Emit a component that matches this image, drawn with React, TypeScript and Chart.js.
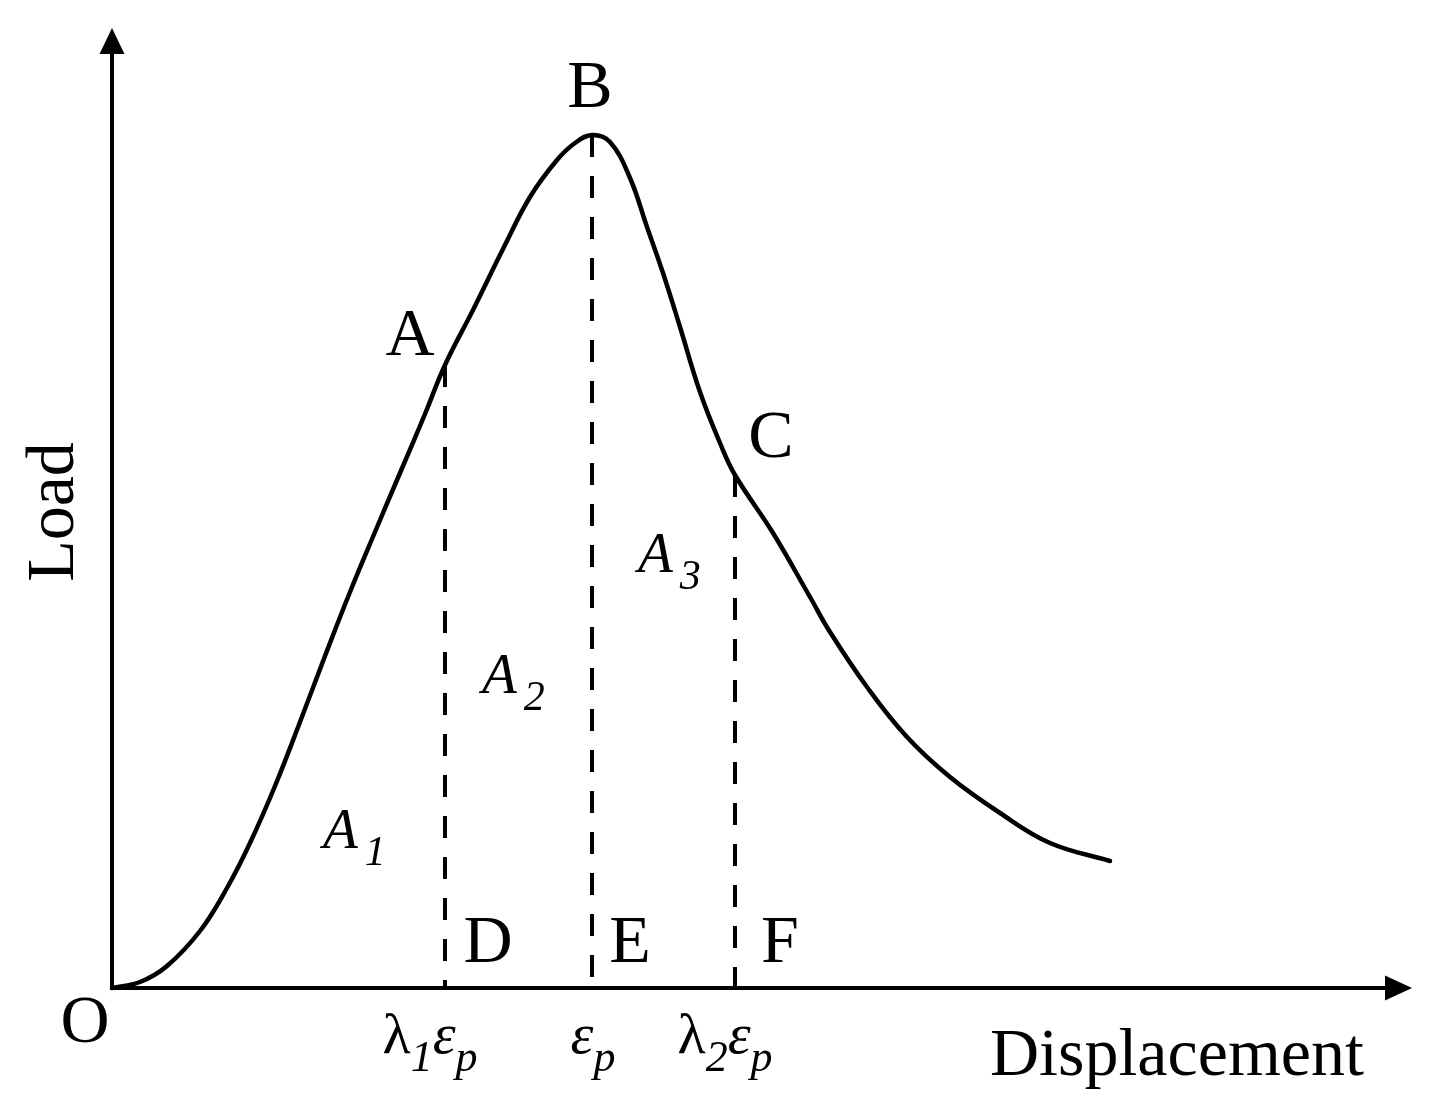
import React, { useEffect, useRef } from 'react';
import { Chart, registerables } from 'chart.js';

Chart.register(...registerables);

// Curve (arbitrary units)
const displacement = [
  0, 0.28, 0.55, 0.88, 1.15, 1.38, 1.63, 1.88, 2.13, 2.38, 2.63, 2.88, 3.13, 3.33,
  3.61, 3.91, 4.18, 4.45, 4.63, 4.80, 4.98, 5.18, 5.35, 5.51, 5.68, 5.88, 6.08, 6.23,
  6.61, 6.98, 7.18, 7.55, 7.95, 8.38, 8.88, 9.38, 9.98,
];
const load = [
  0, 0.06, 0.22, 0.57, 1.0, 1.45, 2.02, 2.66, 3.32, 3.96, 4.56, 5.15, 5.74, 6.23,
  6.78, 7.39, 7.91, 8.28, 8.45, 8.53, 8.46, 8.10, 7.61, 7.15, 6.61, 5.96, 5.45, 5.13,
  4.55, 3.91, 3.56, 3.01, 2.51, 2.11, 1.75, 1.45, 1.27,
];
// indices of the marked points A, B, C on the curve
const markerIndex = [13, 19, 27];
const pointLabels = ['A', 'B', 'C'];
const footLabels = ['D', 'E', 'F'];
const xMax = 13;
const yMax = 9.6;

const SERIF = '"Liberation Serif", "Times New Roman", serif';

type Run = { t: string; font: string; dy: number };

function drawRuns(ctx: CanvasRenderingContext2D, runs: Run[], x: number, y: number, align: 'left' | 'center') {
  ctx.textAlign = 'left';
  ctx.textBaseline = 'alphabetic';
  const widths = runs.map((r) => {
    ctx.font = r.font;
    return ctx.measureText(r.t).width;
  });
  const total = widths.reduce((a, b) => a + b, 0);
  let cx = align === 'center' ? x - total / 2 : x;
  runs.forEach((r, i) => {
    ctx.font = r.font;
    ctx.fillText(r.t, cx, y + r.dy);
    cx += widths[i];
  });
}

const overlayPlugin = {
  id: 'overlay',
  afterDatasetsDraw(chart: any) {
    const ctx: CanvasRenderingContext2D = chart.ctx;
    const xs = chart.scales.x;
    const ys = chart.scales.y;
    const ox = xs.getPixelForValue(0);
    const oy = ys.getPixelForValue(0);
    const xEnd = xs.getPixelForValue(xMax);
    const yEnd = ys.getPixelForValue(yMax);
    ctx.save();
    ctx.fillStyle = '#000';
    ctx.strokeStyle = '#000';
    ctx.lineWidth = 4;
    ctx.lineCap = 'square';
    // axes
    ctx.beginPath();
    ctx.moveTo(ox, oy);
    ctx.lineTo(ox, yEnd + 24);
    ctx.moveTo(ox, oy);
    ctx.lineTo(xEnd - 25, oy);
    ctx.stroke();
    // arrow heads
    ctx.beginPath();
    ctx.moveTo(ox, yEnd);
    ctx.lineTo(ox - 12.5, yEnd + 26);
    ctx.lineTo(ox + 12.5, yEnd + 26);
    ctx.closePath();
    ctx.fill();
    ctx.beginPath();
    ctx.moveTo(xEnd, oy);
    ctx.lineTo(xEnd - 27, oy - 12.5);
    ctx.lineTo(xEnd - 27, oy + 12.5);
    ctx.closePath();
    ctx.fill();

    const big = `68px ${SERIF}`;
    // point labels A, B, C
    const pOff = [
      [-35, -10],
      [-2, -28],
      [36, -18],
    ];
    markerIndex.forEach((idx, i) => {
      const px = xs.getPixelForValue(displacement[idx]);
      const py = ys.getPixelForValue(load[idx]);
      drawRuns(ctx, [{ t: pointLabels[i], font: big, dy: 0 }], px + pOff[i][0], py + pOff[i][1], 'center');
    });
    // foot labels D, E, F
    const fOff = [43, 38, 45];
    markerIndex.forEach((idx, i) => {
      const px = xs.getPixelForValue(displacement[idx]);
      drawRuns(ctx, [{ t: footLabels[i], font: big, dy: 0 }], px + fOff[i], oy - 26, 'center');
    });
    // origin
    drawRuns(ctx, [{ t: 'O', font: big, dy: 0 }], ox - 27, oy + 54, 'center');

    // tick-like labels under the axis
    const gUp = `58px ${SERIF}`;
    const gIt = `italic 58px ${SERIF}`;
    const sub = `italic 44px ${SERIF}`;
    const base = oy + 65;
    const tickRuns: Run[][] = [
      [
        { t: 'λ', font: gUp, dy: 0 },
        { t: '1', font: sub, dy: 18 },
        { t: 'ε', font: gIt, dy: 0 },
        { t: 'p', font: sub, dy: 18 },
      ],
      [
        { t: 'ε', font: gIt, dy: 0 },
        { t: 'p', font: sub, dy: 18 },
      ],
      [
        { t: 'λ', font: gUp, dy: 0 },
        { t: '2', font: sub, dy: 18 },
        { t: 'ε', font: gIt, dy: 0 },
        { t: 'p', font: sub, dy: 18 },
      ],
    ];
    const tOff = [-15, 1, -10];
    markerIndex.forEach((idx, i) => {
      const px = xs.getPixelForValue(displacement[idx]);
      drawRuns(ctx, tickRuns[i], px + tOff[i], base, 'center');
    });

    // area labels
    const aFont = `italic 57px ${SERIF}`;
    const aSub = `italic 42px ${SERIF}`;
    const areas = [
      { s: '1', x: 2.11, y: 1.4 },
      { s: '2', x: 3.7, y: 2.95 },
      { s: '3', x: 5.26, y: 4.16 },
    ];
    areas.forEach((a) => {
      const px = xs.getPixelForValue(a.x);
      const py = ys.getPixelForValue(a.y);
      ctx.font = aFont;
      ctx.textAlign = 'left';
      ctx.fillText('A', px, py);
      const w = ctx.measureText('A').width;
      ctx.font = aSub;
      ctx.fillText(a.s, px + w + 7, py + 17);
    });

    // axis titles
    ctx.font = big;
    ctx.textAlign = 'left';
    ctx.fillText('Displacement', 990, oy + 87);
    ctx.save();
    ctx.translate(73, 512);
    ctx.rotate(-Math.PI / 2);
    ctx.textAlign = 'center';
    ctx.fillText('Load', 0, 0);
    ctx.restore();

    ctx.restore();
  },
};

export default function App() {
  const ref = useRef<HTMLCanvasElement | null>(null);
  useEffect(() => {
    if (!ref.current) return;
    const curve = displacement.map((x, i) => ({ x, y: load[i] }));
    const dashed = markerIndex.map((idx) => ({
      data: [
        { x: displacement[idx], y: load[idx] },
        { x: displacement[idx], y: 0 },
      ],
      borderColor: '#000',
      borderWidth: 4,
      borderDash: [22, 19],
      borderCapStyle: 'butt' as const,
      pointRadius: 0,
      tension: 0,
      clip: false as const,
    }));
    const chart = new Chart(ref.current, {
      type: 'line',
      data: {
        datasets: [
          {
            data: curve,
            borderColor: '#000',
            borderWidth: 4.5,
            pointRadius: 0,
            tension: 0.4,
            borderCapStyle: 'round',
            borderJoinStyle: 'round',
            clip: false as const,
          },
          ...dashed,
        ],
      },
      options: {
        animation: false,
        responsive: false,
        devicePixelRatio: 1,
        layout: { padding: { left: 112, right: 17, top: 28, bottom: 130 } },
        plugins: { legend: { display: false }, tooltip: { enabled: false } },
        events: [],
        scales: {
          x: { type: 'linear', min: 0, max: xMax, display: false },
          y: { type: 'linear', min: 0, max: yMax, display: false },
        },
      },
      plugins: [overlayPlugin],
    });
    return () => chart.destroy();
  }, []);
  return (
    <div style={{ position: 'absolute', left: 0, top: 0, width: 1429, height: 1118, background: '#fff' }}>
      <canvas ref={ref} width={1429} height={1118} style={{ display: 'block' }} />
    </div>
  );
}
